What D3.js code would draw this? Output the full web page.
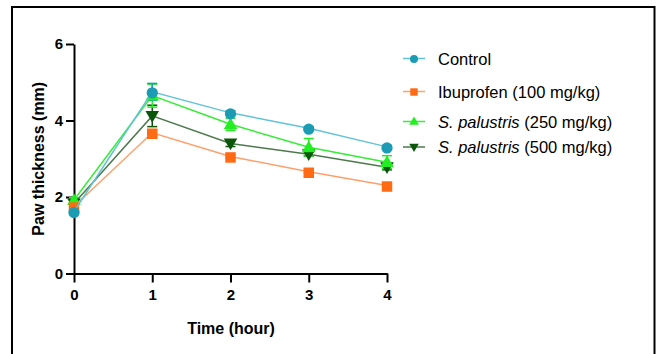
<!DOCTYPE html>
<html>
<head>
<meta charset="utf-8">
<script src="https://cdn.jsdelivr.net/npm/d3@7"></script>
<style>
  body { margin: 0; background: #fff; }
  svg { display: block; font-family: "Liberation Sans", Arial, sans-serif; }
  .eje path, .eje line { stroke: #000; stroke-width: 2px; }
  .eje text { font-size: 15px; font-weight: bold; fill: #000; }
</style>
</head>
<body>
<div id="graf"></div>
<script>
// I. Datos
horas = [0, 1, 2, 3, 4]
series = ['Control', 'Ibuprofen (100 mg/kg)', 'S. palustris (250 mg/kg)', 'S. palustris (500 mg/kg)']
control      = [1.62, 4.75, 4.20, 3.80, 3.31]
ibuprofeno   = [1.75, 3.68, 3.06, 2.66, 2.30]
palustris250 = [1.92, 4.65, 3.90, 3.30, 2.91]
palustris500 = [1.83, 4.12, 3.40, 3.12, 2.78]
errControl = [0.04, 0.22, 0.05, 0.04, 0.04]
errIbu     = [0.05, 0.08, 0.05, 0.04, 0.04]
err250     = [0.06, 0.30, 0.16, 0.23, 0.17]
err500     = [0.05, 0.28, 0.08, 0.05, 0.07]
yTicks = [0, 2, 4, 6]

// II. Configuración
ancho_total = 663
alto_total = 354
margins = { top: 44, left: 74, right: 276, bottom: 80.5 }
ancho = ancho_total - margins.left - margins.right
alto = alto_total - margins.top - margins.bottom

svg = d3.select('#graf').append('svg')
  .attr('width', ancho_total)
  .attr('height', alto_total)

// marco
svg.append('rect')
  .attr('x', 12).attr('y', 7)
  .attr('width', 642.5).attr('height', 360)
  .attr('fill', 'none').attr('stroke', '#000').attr('stroke-width', 2)

g = svg.append('g').attr('transform', `translate(${margins.left}, ${margins.top})`)

x = d3.scaleLinear().domain([0, 4]).range([0, ancho])
y = d3.scaleLinear().domain([0, 6]).range([alto, 0])

estilos = [
  { linea: '#62c3d6', marca: '#1b9bb4', forma: d3.symbolCircle, tam: 100, rot: 0 },
  { linea: '#ff9f6b', marca: '#ff6a13', forma: d3.symbolSquare, tam: 110, rot: 0 },
  { linea: '#33ee33', marca: '#22ee22', forma: d3.symbolTriangle, tam: 80, rot: 0 },
  { linea: '#4d7a4d', marca: '#0b560b', forma: d3.symbolTriangle, tam: 80, rot: 180 }
]
valores = [control, ibuprofeno, palustris250, palustris500]
errores = [errControl, errIbu, err250, err500]

// ejes
g.append('g').attr('class', 'eje')
  .attr('transform', `translate(0, ${alto})`)
  .call(d3.axisBottom(x).tickValues(horas).tickSize(9).tickSizeOuter(0).tickPadding(7).tickFormat(d3.format('d')))
g.append('g').attr('class', 'eje')
  .call(d3.axisLeft(y).tickValues(yTicks).tickSize(8).tickSizeOuter(0).tickPadding(3).tickFormat(d3.format('d')))

// barras de error (orden inverso para que control quede arriba)
d3.range(valores.length).reverse().forEach(i => {
  const datos = horas.map((h, j) => ({ h: h, v: valores[i][j], e: errores[i][j] }))
  const eb = g.append('g')
  datos.forEach(d => {
    eb.append('line')
      .attr('x1', x(d.h)).attr('x2', x(d.h))
      .attr('y1', y(d.v - d.e)).attr('y2', y(d.v + d.e))
      .attr('stroke', estilos[i].marca).attr('stroke-width', 1.5)
    ;[d.v - d.e, d.v + d.e].forEach(v => {
      eb.append('line')
        .attr('x1', x(d.h) - 5).attr('x2', x(d.h) + 5)
        .attr('y1', y(v)).attr('y2', y(v))
        .attr('stroke', estilos[i].marca).attr('stroke-width', 1.5)
    })
  })
})

linea = d3.line().x(d => x(d.h)).y(d => y(d.v))

d3.range(valores.length).reverse().forEach(i => {
  const datos = horas.map((h, j) => ({ h: h, v: valores[i][j] }))
  g.append('path')
    .datum(datos)
    .attr('d', linea)
    .attr('fill', 'none')
    .attr('stroke', estilos[i].linea)
    .attr('stroke-width', 1.5)
  g.selectAll(null)
    .data(datos)
    .enter()
    .append('path')
      .attr('d', d3.symbol().type(estilos[i].forma).size(estilos[i].tam))
      .attr('transform', d => `translate(${x(d.h)}, ${y(d.v) + (estilos[i].rot ? -1 : 1)}) rotate(${estilos[i].rot})`)
      .attr('fill', estilos[i].marca)
})

// títulos de ejes
svg.append('text')
  .attr('x', 231)
  .attr('y', 334)
  .attr('text-anchor', 'middle')
  .style('font-size', '16px').style('font-weight', 'bold')
  .text('Time (hour)')
svg.append('text')
  .attr('transform', `translate(44, ${margins.top + alto / 2}) rotate(-90)`)
  .attr('text-anchor', 'middle')
  .style('font-size', '16px').style('font-weight', 'bold')
  .text('Paw thickness (mm)')

// leyenda
leyY = [58.5, 91.5, 121.5, 147]
ley = svg.append('g')
series.forEach((s, i) => {
  const fila = ley.append('g').attr('transform', `translate(403, ${leyY[i]})`)
  fila.append('line').attr('x1', 0).attr('x2', 22).attr('y1', 0).attr('y2', 0)
    .attr('stroke', estilos[i].linea).attr('stroke-width', 1.5)
  fila.append('path')
    .attr('d', d3.symbol().type(estilos[i].forma).size(estilos[i].tam * 0.5))
    .attr('transform', `translate(11, ${estilos[i].rot ? -0.5 : 0.5}) rotate(${estilos[i].rot})`)
    .attr('fill', estilos[i].marca)
  const t = fila.append('text').attr('x', 35).attr('y', 6)
    .style('font-size', '16.5px').attr('fill', '#000')
  if (s.startsWith('S. palustris')) {
    t.append('tspan').style('font-style', 'italic').text('S. palustris')
    t.append('tspan').text(s.slice(12))
  } else {
    t.text(s)
  }
})
</script>
</body>
</html>
